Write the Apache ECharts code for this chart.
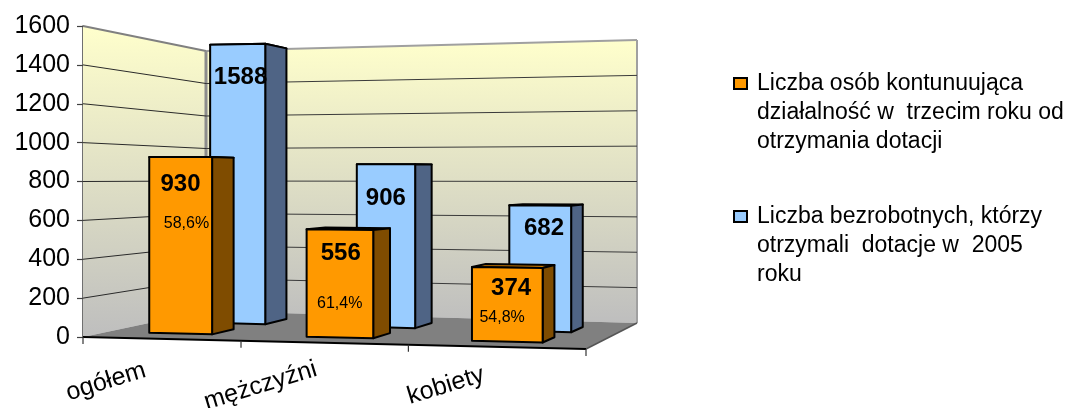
<!DOCTYPE html>
<html>
<head>
<meta charset="utf-8">
<style>html,body{margin:0;padding:0;background:#fff}#c{width:1074px;height:408px}</style>
<script src="https://cdn.jsdelivr.net/npm/echarts@6/dist/echarts.min.js"></script>
</head>
<body>
<div id="c"></div>
<script>
var categories = ['ogółem', 'mężczyźni', 'kobiety'];
var nameContinuing = 'Liczba osób kontunuująca\ndziałalność w  trzecim roku od\notrzymania dotacji';
var nameFunded = 'Liczba bezrobotnych, którzy\notrzymali  dotacje w  2005\nroku';
var continuing = [930, 556, 374];
var funded = [1588, 906, 682];
var shares = ['58,6%', '61,4%', '54,8%'];
var yTicks = [0, 200, 400, 600, 800, 1000, 1200, 1400, 1600];

/* ---- view of the 3-D box: everything below is projection, not data ---- */
var FL = [83, 337], FR = [586, 349], BL = [206, 311], BR = [637, 323];
var H = {FL: 311, FR: 330, BL: 260, BR: 283};
var PERSPECTIVE = 0.916;
function warp(u) { return PERSPECTIVE * u / ((1 - u) + PERSPECTIVE * u); }
function project(u, d, v) {
  var s = warp(u);
  var fx = FL[0] + (FR[0] - FL[0]) * s, fy = FL[1] + (FR[1] - FL[1]) * s;
  var bx = BL[0] + (BR[0] - BL[0]) * s, by = BL[1] + (BR[1] - BL[1]) * s;
  var hf = H.FL + (H.FR - H.FL) * s, hb = H.BL + (H.BR - H.BL) * s;
  return [fx + (bx - fx) * d, fy + (by - fy) * d - v * (hf + (hb - hf) * d)];
}
function uOf(params, api, cat) { var c = params.coordSys; return (api.coord([cat, 0])[0] - c.x) / c.width; }
function vOf(params, api, val) { var c = params.coordSys; return (c.y + c.height - api.coord([0, val])[1]) / c.height; }
function poly(points, fill, stroke, lw) {
  return {type: 'polygon', shape: {points: points}, style: {fill: fill, stroke: stroke, lineWidth: lw, lineJoin: 'round'}};
}
function line(a, b, stroke, lw) {
  return {type: 'line', shape: {x1: a[0], y1: a[1], x2: b[0], y2: b[1]}, style: {stroke: stroke, lineWidth: lw}};
}
function wallFill() {
  return new echarts.graphic.LinearGradient(0, 0, 0, 1, [{offset: 0, color: '#FFFFCC'}, {offset: 1, color: '#BEBEBE'}]);
}
function renderWalls(params, api) {
  var lb = project(0, 1, 0), lt = project(0, 1, 1), fb = project(0, 0, 0), ft = project(0, 0, 1);
  var rb = project(1, 1, 0), rt = project(1, 1, 1), fr = project(1, 0, 0);
  return {type: 'group', children: [
    poly([ft, lt, lb, fb], wallFill(), null, 0),
    poly([lt, rt, rb, lb], wallFill(), null, 0),
    poly([fb, lb, rb, fr], '#808080', null, 0),
    line(ft, lt, '#808080', 2),
    line(lt, rt, '#A0A0A0', 2),
    line(lt, lb, '#8C8C8C', 3),
    line(rt, rb, '#A0A0A0', 2),
    line(rb, fr, '#555555', 1.5),
    line(fb, fr, '#000000', 2)
  ]};
}
function renderGrid(params, api) {
  var v = vOf(params, api, api.value(0));
  if (v <= 0 || v >= 1) { return {type: 'group', children: []}; }
  var a = project(0, 0, v), b = project(0, 1, v), c = project(1, 1, v);
  return {type: 'group', children: [line(a, b, '#2a2a2a', 1), line(b, c, '#3a3a3a', 1)]};
}
var labelOffsets = [[-55, 43], [-63, 43], [-50, 39]];
function renderXAxis(params, api) {
  var cat = api.value(0), c = params.coordSys;
  var band = api.size([1, 0])[0] / c.width;
  var uMid = uOf(params, api, cat), u = uMid + band / 2;
  var kids = [];
  var p = project(u, 0, 0);
  kids.push(line(p, [p[0], p[1] + 7], '#333333', 1.2));
  if (cat === 0) { var p0 = project(0, 0, 0); kids.push(line(p0, [p0[0], p0[1] + 7], '#333333', 1.2)); }
  var q = project(uMid, 0, 0);
  var off = labelOffsets[cat];
  kids.push({type: 'text', x: q[0] + off[0], y: q[1] + off[1], rotation: 17 * Math.PI / 180,
    style: {text: categories[cat], fill: '#000', font: '25px "Liberation Sans"', align: 'center', verticalAlign: 'middle'}});
  return {type: 'group', children: kids};
}
var valueOffsets = {
  front: [[0, 27], [1, 24], [4, 21]],
  back: [[3, 33], [0, 34], [4, 23]]
};
var shareOffsets = [[6, 67], [0, 74], [-5, 50]];
var lateralFront = [-0.006, -0.003, -0.003];
var lateralBack = [0.022, 0.02, 0.012];
function bars(depthA, depthB, lateral, halfBand, heightScale, front, side, top, offs, withShare) {
  return function (params, api) {
    var cat = api.value(0), val = api.value(1), c = params.coordSys;
    var band = api.size([1, 0])[0] / c.width;
    var u = uOf(params, api, cat) + lateral[cat], half = band * halfBand, v = vOf(params, api, val) * heightScale;
    var l = u - half, r = u + half;
    var a = project(l, depthA, 0), b = project(r, depthA, 0), e = project(r, depthB, 0);
    var at = project(l, depthA, v), bt = project(r, depthA, v), et = project(r, depthB, v), ft = project(l, depthB, v);
    var mid = project(u, depthA, v);
    var kids = [
      poly([at, bt, et, ft], top, '#000', 2),
      poly([b, bt, et, e], side, '#000', 2),
      poly([a, at, bt, b], front, '#000', 2),
      {type: 'text', x: mid[0] + offs[cat][0], y: mid[1] + offs[cat][1],
        style: {text: String(val), fill: '#000', font: 'bold 24px "Liberation Sans"', align: 'center', verticalAlign: 'middle'}}
    ];
    if (withShare) {
      kids.push({type: 'text', x: mid[0] + shareOffsets[cat][0], y: mid[1] + shareOffsets[cat][1],
        style: {text: shares[cat], fill: '#000', font: '16px "Liberation Sans"', align: 'center', verticalAlign: 'middle'}});
    }
    return {type: 'group', children: kids};
  };
}
function pairs(values) { return values.map(function (v, i) { return [i, v]; }); }

var chart = echarts.init(document.getElementById('c'), null, {renderer: 'canvas'});
chart.setOption({
  animation: false,
  backgroundColor: '#fff',
  textStyle: {fontFamily: '"Liberation Sans"'},
  grid: {left: 83, top: 26, width: 503, height: 311, containLabel: false},
  xAxis: {type: 'category', data: categories, axisLine: {show: false}, axisTick: {show: false}, axisLabel: {show: false}},
  yAxis: {type: 'value', min: 0, max: 1600, interval: 200,
    axisLine: {show: true, onZero: false, lineStyle: {color: '#404040', width: 1.5}},
    axisTick: {show: true, length: 6, lineStyle: {color: '#404040', width: 1.2}},
    axisLabel: {color: '#000', fontSize: 25, margin: 13, fontFamily: '"Liberation Sans"', formatter: function (v) { return String(v); }},
    splitLine: {show: false}},
  legend: {
    orient: 'vertical', left: 733, top: 11, padding: 0, itemWidth: 13, itemHeight: 11, itemGap: -12, icon: 'rect',
    data: [nameContinuing, nameFunded], selectedMode: false,
    formatter: function (n) { return '\n\n' + n; },
    textStyle: {color: '#000', fontSize: 23, lineHeight: 29, fontFamily: '"Liberation Sans"', padding: [0, 0, 0, 5]},
    itemStyle: {borderColor: '#000', borderWidth: 2}
  },
  series: [
    {type: 'custom', name: 'plane', silent: true, z: 1, renderItem: renderWalls, data: [[0, 0]], encode: {x: 0, y: 1}},
    {type: 'custom', name: 'grid', silent: true, z: 2, renderItem: renderGrid, data: yTicks.map(function (t) { return [t]; }), encode: {y: 0}},
    {type: 'custom', name: 'axis', silent: true, z: 2, renderItem: renderXAxis, data: categories.map(function (c, i) { return [i]; }), encode: {x: 0}},
    {type: 'custom', name: nameFunded, z: 3, itemStyle: {color: '#99CCFF'},
      renderItem: bars(0.6, 0.8, lateralBack, 0.19, 0.99, '#99CCFF', '#4F6485', '#7AA3CC', valueOffsets.back, false),
      data: pairs(funded), encode: {x: 0, y: 1}},
    {type: 'custom', name: nameContinuing, z: 4, itemStyle: {color: '#FF9900'},
      renderItem: bars(0.2, 0.4, lateralFront, 0.205, 1, '#FF9900', '#7F4C00', '#CC7A00', valueOffsets.front, true),
      data: pairs(continuing), encode: {x: 0, y: 1}}
  ]
});
</script>
</body>
</html>
